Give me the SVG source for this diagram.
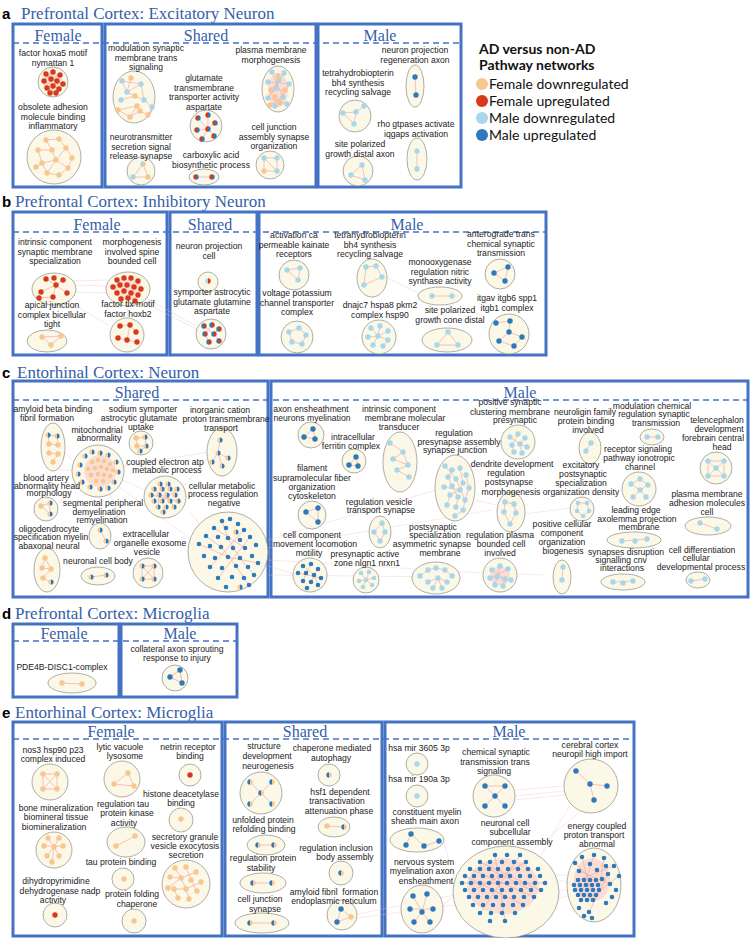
<svg xmlns="http://www.w3.org/2000/svg" width="752" height="938" viewBox="0 0 752 938">
<defs>
<style>
.ttl{font-family:"Liberation Serif","Times New Roman",serif;font-size:17px;fill:#3560a8}
.hd{font-family:"Liberation Serif","Times New Roman",serif;font-size:16px;fill:#3560a8;text-anchor:middle}
.pl{font-family:"Liberation Sans",Arial,sans-serif;font-size:15px;font-weight:bold;fill:#000}
.fr{fill:none;stroke:#4472c4;stroke-width:3}
.ds{stroke:#4472c4;stroke-width:1.6;stroke-dasharray:6 4}
.lb{font-family:"Liberation Sans",Arial,sans-serif;font-size:8.6px;fill:#222;text-anchor:middle}
.cl{fill:#fcf8e8;stroke:#8e8c80;stroke-width:0.7}
.e{fill:none;stroke:#f0aaa4;stroke-width:0.7}
.cx{fill:none;stroke:#f4bcbc;stroke-width:0.7;opacity:0.5}
.blob{fill:#f7c9c2;opacity:0.55}
.d{fill:none;stroke-linecap:round;stroke-width:5.4}
.s{stroke-width:4.6}
.fd{stroke:#f8c68f}.fu{stroke:#d7391b}.md{stroke:#a8d7ea}.mu{stroke:#2e78bc}
.lg{font-family:Lato,"Open Sans",sans-serif;font-size:14px;fill:#111}
</style>
<g id="sRB"><path d="M0-2.7A2.7 2.7 0 0 0 0 2.7Z" fill="#d7391b"/><path d="M0-2.7A2.7 2.7 0 0 1 0 2.7Z" fill="#2e78bc"/></g>
<g id="sLR"><path d="M0-2.7A2.7 2.7 0 0 0 0 2.7Z" fill="#a8d7ea"/><path d="M0-2.7A2.7 2.7 0 0 1 0 2.7Z" fill="#d7391b"/></g>
<g id="sBR"><path d="M0-2.7A2.7 2.7 0 0 0 0 2.7Z" fill="#2e78bc"/><path d="M0-2.7A2.7 2.7 0 0 1 0 2.7Z" fill="#d7391b"/></g>
<g id="sFB"><path d="M0-2.6A2.6 2.6 0 0 0 0 2.6Z" fill="#f8c68f"/><path d="M0-2.6A2.6 2.6 0 0 1 0 2.6Z" fill="#2e78bc"/></g>
<g id="sBF"><path d="M0-2.7A2.7 2.7 0 0 0 0 2.7Z" fill="#2e78bc"/><path d="M0-2.7A2.7 2.7 0 0 1 0 2.7Z" fill="#f8c68f"/></g>
<g id="sLF"><path d="M0-2.7A2.7 2.7 0 0 0 0 2.7Z" fill="#a8d7ea"/><path d="M0-2.7A2.7 2.7 0 0 1 0 2.7Z" fill="#f8c68f"/></g>
</defs>
<rect width="752" height="938" fill="#fff"/>

<g id="titles">
<text class="pl" x="2" y="19">a</text><text class="ttl" x="21" y="19">Prefrontal Cortex: Excitatory Neuron</text>
<text class="pl" x="2" y="207">b</text><text class="ttl" x="15" y="207">Prefrontal Cortex: Inhibitory Neuron</text>
<text class="pl" x="2" y="378">c</text><text class="ttl" x="17" y="378">Entorhinal Cortex: Neuron</text>
<text class="pl" x="2" y="619">d</text><text class="ttl" x="15" y="619">Prefrontal Cortex: Microglia</text>
<text class="pl" x="2" y="718">e</text><text class="ttl" x="15" y="718">Entorhinal Cortex: Microglia</text>
</g>

<g id="frames">
<rect class="fr" x="13" y="24" width="89" height="163"/><rect class="fr" x="105" y="24" width="211" height="163"/><rect class="fr" x="318" y="24" width="143" height="163"/>
<line class="ds" x1="13" y1="43" x2="461" y2="43"/>
<text class="hd" x="58" y="41">Female</text><text class="hd" x="206" y="41">Shared</text><text class="hd" x="380" y="41">Male</text>
<rect class="fr" x="13" y="212" width="154" height="143"/><rect class="fr" x="170" y="212" width="87" height="143"/><rect class="fr" x="259" y="212" width="287" height="143"/>
<line class="ds" x1="13" y1="232" x2="546" y2="232"/>
<text class="hd" x="97" y="230">Female</text><text class="hd" x="210" y="230">Shared</text><text class="hd" x="407" y="230">Male</text>
<rect class="fr" x="13" y="381" width="255" height="216"/><rect class="fr" x="271" y="381" width="477" height="216"/>
<line class="ds" x1="13" y1="400" x2="748" y2="400"/>
<text class="hd" x="137" y="398">Shared</text><text class="hd" x="520" y="398">Male</text>
<rect class="fr" x="13" y="624" width="106" height="73"/><rect class="fr" x="121" y="624" width="116" height="73"/>
<line class="ds" x1="13" y1="641" x2="237" y2="641"/>
<text class="hd" x="64" y="639">Female</text><text class="hd" x="180" y="639">Male</text>
<rect class="fr" x="13" y="722" width="209" height="214"/><rect class="fr" x="225" y="722" width="157" height="214"/><rect class="fr" x="385" y="722" width="249" height="214"/>
<line class="ds" x1="13" y1="739" x2="634" y2="739"/>
<text class="hd" x="111" y="737">Female</text><text class="hd" x="305" y="737">Shared</text><text class="hd" x="509" y="737">Male</text>
</g>

<g id="legend">
<text class="lg" x="479" y="54" font-weight="bold">AD versus non-AD</text>
<text class="lg" x="479" y="70" font-weight="bold">Pathway networks</text>
<circle cx="482" cy="84" r="6" fill="#f8c68f"/><text class="lg" x="489" y="89">Female downregulated</text>
<circle cx="482" cy="101" r="6" fill="#d7391b"/><text class="lg" x="489" y="106">Female upregulated</text>
<circle cx="482" cy="118" r="6" fill="#a8d7ea"/><text class="lg" x="489" y="123">Male downregulated</text>
<circle cx="482" cy="135" r="6" fill="#2e78bc"/><text class="lg" x="489" y="140">Male upregulated</text>
</g>

<g id="connectors" class="cx">
<path d="M76 285L106 286M74 292L108 293M72 281L108 280M140 300L198 330M128 304L127 318M142 296L196 326M66 300L110 326M386 277L418 293"/>
<path d="M64 452L74 462M58 470L72 470M58 505L76 484M100 497L100 523M122 480L145 490M118 486L192 540M124 466L208 452M182 488L208 458M190 512L200 525M110 494L140 565M268 560L483 573M268 548L492 510M268 575L448 577M268 566L294 574M268 540L436 490M517 574L545 575M517 515L570 508M475 500L496 505"/>
<path d="M515 790L564 786M515 796L564 791M514 800L565 795M540 857L570 805M530 852L580 812M559 880L567 882M559 890L567 890M558 898L568 896M556 875L568 875M500 846L496 817M455 895L443 905M456 885L444 843M357 918L454 905M357 914L455 895"/>
</g>

<g id="panel-a">
<g id="a-hoxa5"><circle class="cl" cx="53" cy="82" r="15"/><circle class="blob" cx="53" cy="83" r="10"/>
<path class="e" d="M46 74L57 81L50 93M53 72L44 81L59 89M60 75L51 79L63 84M47 88L56 93M53 86L60 75M44 81L50 93M57 81L63 84M46 74L53 86"/>
<path class="d fu" d="M46 74h0M53 72h0M60 75h0M44 81h0M51 79h0M57 81h0M63 84h0M47 88h0M53 86h0M59 89h0M50 93h0M56 93h0"/>
<text class="lb"><tspan x="53" y="56">factor hoxa5 motif</tspan><tspan x="53" y="66">nymattan 1</tspan></text></g>
<g id="a-obsolete"><circle class="cl" cx="54" cy="157" r="27"/>
<path class="e" d="M46 140L52 150L38 150L42 163L47 173L59 175L68 168L72 158L66 148L59 139L46 140M52 150L56 160L42 163M56 160L66 148M56 160L68 168M56 160L47 173M36 167L42 163"/>
<path class="d fd" d="M46 140h0M59 139h0M38 150h0M52 150h0M66 148h0M72 158h0M42 163h0M56 160h0M68 168h0M47 173h0M59 175h0M36 167h0"/>
<text class="lb"><tspan x="53" y="110">obsolete adhesion</tspan><tspan x="53" y="119.5">molecule binding</tspan><tspan x="53" y="129">inflammatory</tspan></text></g>
<g id="a-modulation"><ellipse class="cl" cx="134" cy="97" rx="21" ry="26"/>
<path class="e" d="M122 81L141 84L127 92L122 81M131 78L127 92L135 96L144 100L141 84M121 100L135 96M137 106L118 110L130 117L140 111L148 115L152 107L144 100M140 111L137 106L130 117"/>
<path class="d md" d="M122 81h0M141 84h0M127 92h0M121 100h0M144 100h0M152 107h0"/>
<path class="d fd" d="M131 78h0M135 96h0M137 106h0M118 110h0M140 111h0M130 117h0M148 115h0"/>
<text class="lb"><tspan x="146" y="51">modulation synaptic</tspan><tspan x="146" y="60.5">membrane trans</tspan><tspan x="146" y="70">signaling</tspan></text></g>
<g id="a-glutamate"><circle class="cl" cx="206" cy="126" r="16"/>
<path class="e" d="M198 118L208 129L215 123M208 115L208 129L202 139M197 130L208 129L214 136"/>
<use href="#sRB" x="198" y="118"/><use href="#sRB" x="208" y="115"/><use href="#sRB" x="215" y="123"/><use href="#sRB" x="197" y="130"/><use href="#sRB" x="208" y="129"/><use href="#sRB" x="214" y="136"/><use href="#sRB" x="202" y="139"/>
<text class="lb"><tspan x="204" y="81">glutamate</tspan><tspan x="204" y="90.5">transmembrane</tspan><tspan x="204" y="100">transporter activity</tspan><tspan x="204" y="109.5">aspartate</tspan></text></g>
<g id="a-plasma"><ellipse class="cl" cx="278" cy="89" rx="16" ry="23"/><ellipse class="blob" cx="278" cy="90" rx="10" ry="17"/>
<path class="e" d="M272 72L283 97L270 105M284 73L268 98L287 104M268 82L289 84L275 106M279 80L271 90L285 90L280 103M278 76L276 88L268 98"/>
<path class="d md" d="M272 72h0M284 73h0M268 82h0M289 84h0M276 88h0M283 97h0M268 98h0M287 104h0M275 106h0M279 80h0"/>
<path class="d fd" d="M278 76h0M271 90h0M285 90h0M275 97h0M280 103h0M270 105h0"/>
<text class="lb"><tspan x="271" y="53">plasma membrane</tspan><tspan x="271" y="62.5">morphogenesis</tspan></text></g>
<g id="a-neurotransmitter"><circle class="cl" cx="141" cy="171" r="14"/>
<path class="e" d="M143 164L133 177L148 177Z"/>
<use href="#sLF" x="143" y="164"/><path class="d md" d="M133 177h0"/><path class="d fd" d="M148 177h0"/>
<text class="lb"><tspan x="141" y="140">neurotransmitter</tspan><tspan x="141" y="149.5">secretion signal</tspan><tspan x="141" y="159">release synapse</tspan></text></g>
<g id="a-carboxylic"><ellipse class="cl" cx="204" cy="177" rx="15" ry="8"/>
<path class="e" d="M196 177H212"/><use href="#sRB" x="196" y="177"/><use href="#sRB" x="212" y="177"/>
<text class="lb"><tspan x="211" y="158">carboxylic acid</tspan><tspan x="211" y="167.5">biosynthetic process</tspan></text></g>
<g id="a-celljunction"><circle class="cl" cx="270" cy="165" r="14"/>
<path class="e" d="M264 158H277V171H264ZM264 158L277 171"/>
<path class="d md" d="M264 158h0M277 158h0M277 171h0"/><path class="d fd" d="M264 171h0"/>
<text class="lb"><tspan x="274" y="130">cell junction</tspan><tspan x="274" y="139.5">assembly synapse</tspan><tspan x="274" y="149">organization</tspan></text></g>
<g id="a-neuronprojection"><ellipse class="cl" cx="415" cy="86" rx="9" ry="21"/>
<path class="e" d="M415 77L416 95"/><path class="d mu" d="M415 77h0M416 95h0"/>
<text class="lb"><tspan x="415" y="53">neuron projection</tspan><tspan x="415" y="62.5">regeneration axon</tspan></text></g>
<g id="a-tetrahydro"><circle class="cl" cx="355" cy="116" r="16"/>
<path class="e" d="M343 113L356 112L364 106M356 112L354 124M343 113L354 124"/>
<path class="d md" d="M343 113h0M356 112h0M364 106h0M354 124h0"/>
<text class="lb"><tspan x="358" y="76">tetrahydrobiopterin</tspan><tspan x="358" y="85.5">bh4 synthesis</tspan><tspan x="358" y="95">recycling salvage</tspan></text></g>
<g id="a-rho"><ellipse class="cl" cx="417" cy="159" rx="10" ry="21"/>
<path class="e" d="M417 151V169"/><path class="d md" d="M417 151h0M417 169h0"/>
<text class="lb"><tspan x="416" y="127">rho gtpases activate</tspan><tspan x="416" y="136.5">iqgaps activation</tspan></text></g>
<g id="a-sitepolarized"><circle class="cl" cx="358" cy="171" r="15"/>
<path class="e" d="M362 165L351 175L365 180Z"/><path class="d md" d="M362 165h0M351 175h0M365 180h0"/>
<text class="lb"><tspan x="360" y="147">site polarized</tspan><tspan x="360" y="156.5">growth distal axon</tspan></text></g>
</g>

<g id="panel-b">
<g id="b-intrinsic"><ellipse class="cl" cx="54" cy="289" rx="22" ry="16"/>
<path class="e" d="M46 279L56 285L63 280M54 278L56 285L41 292M56 285L67 293M56 285L53 297M39 298L53 297"/>
<path class="d fu" d="M46 279h0M54 278h0M63 280h0M56 285h0M41 292h0M67 293h0M53 297h0M39 298h0"/>
<text class="lb"><tspan x="55" y="245">intrinsic component</tspan><tspan x="55" y="254.5">synaptic membrane</tspan><tspan x="55" y="264">specialization</tspan></text></g>
<g id="b-morphogenesis"><ellipse class="cl" cx="128" cy="289" rx="22" ry="17"/><ellipse class="blob" cx="128" cy="289" rx="14" ry="11"/>
<path class="d fu" d="M117 280h0M124 278h0M131 278h0M138 281h0M113 287h0M120 285h0M127 285h0M134 287h0M141 289h0M117 293h0M124 291h0M131 293h0M138 295h0M121 299h0M128 298h0M135 301h0"/>
<text class="lb"><tspan x="132" y="245">morphogenesis</tspan><tspan x="132" y="254.5">involved spine</tspan><tspan x="132" y="264">bounded cell</tspan></text></g>
<g id="b-apical"><ellipse class="cl" cx="47" cy="341" rx="20" ry="11"/>
<path class="e" d="M42 337L61 336L51 345Z"/><path class="d fd" d="M42 337h0M61 336h0M51 345h0"/>
<text class="lb"><tspan x="52" y="308">apical junction</tspan><tspan x="52" y="317.5">complex bicellular</tspan><tspan x="52" y="327">tight</tspan></text></g>
<g id="b-factortlx"><circle class="cl" cx="127" cy="335" r="17"/>
<path class="e" d="M120 326L130 325L136 332M118 338L127 340L137 342M130 325L127 340"/>
<path class="d fu" d="M120 326h0M130 325h0M136 332h0M118 338h0M127 340h0M137 342h0"/>
<text class="lb"><tspan x="128" y="307">factor tlx motif</tspan><tspan x="128" y="316.5">factor hoxb2</tspan></text></g>
<g id="b-neuronprojection"><circle class="cl" cx="208" cy="282" r="10"/><use href="#sLR" x="208" y="281"/>
<text class="lb"><tspan x="209" y="249">neuron projection</tspan><tspan x="209" y="258.5">cell</tspan></text></g>
<g id="b-symporter"><circle class="cl" cx="211" cy="334" r="15"/>
<path class="e" d="M204 326L214 334L219 329M212 325L205 334L209 342M214 334L219 341"/>
<use href="#sBR" x="204" y="326"/><use href="#sBR" x="212" y="325"/><use href="#sBR" x="219" y="329"/><use href="#sBR" x="205" y="334"/><use href="#sBR" x="214" y="334"/><use href="#sBR" x="209" y="342"/><use href="#sBR" x="219" y="341"/>
<text class="lb"><tspan x="212" y="295">symporter astrocytic</tspan><tspan x="212" y="304.5">glutamate glutamine</tspan><tspan x="212" y="314">aspartate</tspan></text></g>
<g id="b-activation"><circle class="cl" cx="294" cy="275" r="15"/>
<path class="e" d="M287 270L300 268L298 280Z"/><path class="d md" d="M287 270h0M300 268h0M298 280h0"/>
<text class="lb"><tspan x="294" y="238">activation ca</tspan><tspan x="294" y="247.5">permeable kainate</tspan><tspan x="294" y="257">receptors</tspan></text></g>
<g id="b-tetrahydro"><ellipse class="cl" cx="372" cy="278" rx="15" ry="19"/>
<path class="e" d="M366 267L376 266L382 277L364 285Z"/><path class="d md" d="M366 267h0M376 266h0M382 277h0M364 285h0"/>
<text class="lb"><tspan x="370" y="238">tetrahydrobiopterin</tspan><tspan x="370" y="247.5">bh4 synthesis</tspan><tspan x="370" y="257">recycling salvage</tspan></text></g>
<g id="b-monooxygenase"><ellipse class="cl" cx="440" cy="296" rx="22" ry="9"/>
<path class="e" d="M432 296H452"/><path class="d md" d="M432 296h0M452 296h0"/>
<text class="lb"><tspan x="440" y="265">monooxygenase</tspan><tspan x="440" y="274.5">regulation nitric</tspan><tspan x="440" y="284">synthase activity</tspan></text></g>
<g id="b-anterograde"><circle class="cl" cx="500" cy="274" r="15"/>
<path class="e" d="M494 273L508 267L505 281Z"/><path class="d mu" d="M494 273h0M508 267h0M505 281h0"/>
<text class="lb"><tspan x="501" y="237">anterograde trans</tspan><tspan x="501" y="246.5">chemical synaptic</tspan><tspan x="501" y="256">transmission</tspan></text></g>
<g id="b-voltage"><circle class="cl" cx="297" cy="337" r="16"/>
<path class="e" d="M289 332L299 328L306 335L302 344L292 342Z"/><path class="d md" d="M289 332h0M299 328h0M306 335h0M292 342h0M302 344h0"/>
<text class="lb"><tspan x="297" y="296">voltage potassium</tspan><tspan x="297" y="305.5">channel transporter</tspan><tspan x="297" y="315">complex</tspan></text></g>
<g id="b-dnajc7"><circle class="cl" cx="379" cy="337" r="17"/>
<path class="e" d="M371 328L378 336L388 331M380 326L378 336L373 345M368 337L378 336L388 340L383 346"/>
<path class="d md" d="M371 328h0M380 326h0M388 331h0M368 337h0M378 336h0M388 340h0M373 345h0M383 346h0"/>
<text class="lb"><tspan x="380" y="308">dnajc7 hspa8 pkm2</tspan><tspan x="380" y="317.5">complex hsp90</tspan></text></g>
<g id="b-sitepolarized"><ellipse class="cl" cx="447" cy="340" rx="25" ry="12"/>
<path class="e" d="M448 332L437 345L458 345Z"/><path class="d md" d="M448 332h0M437 345h0M458 345h0"/>
<text class="lb"><tspan x="450" y="313">site polarized</tspan><tspan x="450" y="322.5">growth cone distal</tspan></text></g>
<g id="b-itgav"><circle class="cl" cx="509" cy="334" r="20"/>
<path class="e" d="M496 323L510 321L509 332L522 337M509 332L499 341L514 346L522 337"/>
<path class="d mu" d="M496 323h0M510 321h0M509 332h0M522 337h0M499 341h0M514 346h0"/>
<text class="lb"><tspan x="507" y="301">itgav itgb6 spp1</tspan><tspan x="507" y="310.5">itgb1 complex</tspan></text></g>
</g>

<g id="panel-c">
<g id="c-amyloid"><ellipse class="cl" cx="53" cy="447" rx="12" ry="24"/>
<path class="e" d="M48 435L57 436L58 445L49 444L48 435M49 453L58 454L53 462"/>
<use href="#sFB" x="48" y="435"/><use href="#sFB" x="57" y="436"/>
<path class="d fd" d="M49 444h0M58 445h0M49 453h0M58 454h0M53 462h0"/>
<text class="lb"><tspan x="53" y="412">amyloid beta binding</tspan><tspan x="47" y="421">fibril formation</tspan></text></g>
<g id="c-sodium"><circle class="cl" cx="141" cy="443" r="12"/>
<path class="e" d="M136 438L145 437L146 446L137 446L136 438M140 451L146 446"/>
<path class="d fd" d="M136 438h0M137 446h0"/><use href="#sFB" x="145" y="437"/><use href="#sFB" x="146" y="446"/><use href="#sFB" x="140" y="451"/>
<text class="lb"><tspan x="143" y="412">sodium symporter</tspan><tspan x="139" y="421">astrocytic glutamate</tspan><tspan x="141" y="430">uptake</tspan></text></g>
<g id="c-inorganic"><ellipse class="cl" cx="222" cy="452" rx="15" ry="24"/>
<path class="e" d="M220 440L218 453L228 458M218 453L212 462M218 453L222 466"/>
<use href="#sFB" x="220" y="440"/><use href="#sFB" x="218" y="453"/><use href="#sFB" x="228" y="458"/><use href="#sFB" x="212" y="462"/><use href="#sFB" x="222" y="466"/>
<text class="lb"><tspan x="220" y="413">inorganic cation</tspan><tspan x="226" y="422">proton transmembrane</tspan><tspan x="221" y="431">transport</tspan></text></g>
<g id="c-mitochondrial"><circle class="cl" cx="98" cy="471" r="26"/><circle class="blob" cx="100" cy="471" r="16"/>
<path class="d s fd" d="M92 462h0M98 460h0M104 461h0M110 464h0M88 469h0M95 468h0M101 467h0M107 469h0M113 470h0M91 475h0M98 474h0M104 475h0M110 476h0M96 481h0M103 481h0"/>
<use href="#sFB" x="85" y="456"/><use href="#sFB" x="92" y="452"/><use href="#sFB" x="100" y="453"/><use href="#sFB" x="108" y="455"/><use href="#sFB" x="80" y="465"/><use href="#sFB" x="116" y="462"/><use href="#sFB" x="78" y="474"/><use href="#sFB" x="118" y="472"/><use href="#sFB" x="82" y="482"/><use href="#sFB" x="114" y="482"/><use href="#sFB" x="90" y="487"/><use href="#sFB" x="100" y="489"/><use href="#sFB" x="108" y="488"/>
<text class="lb"><tspan x="97" y="433">mitochondrial</tspan><tspan x="99" y="441">abnormality</tspan></text></g>
<g id="c-coupled"><circle class="cl" cx="165" cy="497" r="21"/>
<path class="e" d="M160 484L167 495L174 507M168 484L159 495L158 507M151 495L178 501M154 489L170 501M177 489L162 501"/>
<use href="#sFB" x="160" y="484"/><use href="#sFB" x="168" y="484"/><use href="#sFB" x="154" y="489"/><use href="#sFB" x="162" y="489"/><use href="#sFB" x="170" y="489"/><use href="#sFB" x="177" y="489"/><use href="#sFB" x="151" y="495"/><use href="#sFB" x="159" y="495"/><use href="#sFB" x="167" y="495"/><use href="#sFB" x="175" y="495"/><use href="#sFB" x="154" y="501"/><use href="#sFB" x="162" y="501"/><use href="#sFB" x="170" y="501"/><use href="#sFB" x="178" y="501"/><use href="#sFB" x="158" y="507"/><use href="#sFB" x="166" y="507"/><use href="#sFB" x="174" y="507"/><use href="#sFB" x="163" y="512"/>
<text class="lb"><tspan x="165" y="465">coupled electron atp</tspan><tspan x="167" y="473">metabolic process</tspan></text></g>
<g id="c-bloodartery"><circle class="cl" cx="46" cy="509" r="12"/>
<path class="e" d="M41 506L50 503L50 514Z"/><path class="d fd" d="M41 506h0"/><use href="#sFB" x="50" y="503"/><use href="#sFB" x="50" y="514"/>
<text class="lb"><tspan x="46" y="481">blood artery</tspan><tspan x="47" y="489">abnormality head</tspan><tspan x="49" y="496">morphology</tspan></text></g>
<g id="c-cellularmetabolic"><circle class="cl" cx="228" cy="552" r="40"/>
<path class="e" d="M222 521L228 538L240 558L254 575M206 536L221 547L236 566L249 585M214 528L245 548M199 544L228 557L258 563M210 567L244 530M218 578L250 537"/>
<path class="d s mu" d="M222 521h0M230 519h0M238 524h0M214 528h0M226 528h0M244 530h0M206 536h0M218 537h0M228 538h0M240 540h0M250 537h0M199 544h0M210 546h0M221 547h0M233 548h0M245 548h0M256 545h0M204 556h0M215 558h0M228 557h0M240 558h0M252 556h0M210 567h0M222 568h0M236 566h0M248 567h0M258 563h0M218 578h0M232 577h0M244 578h0M254 575h0M226 587h0M249 585h0"/>
<use href="#sFB" x="236" y="532"/><use href="#sFB" x="240" y="587"/>
<text class="lb"><tspan x="222" y="489">cellular metabolic</tspan><tspan x="223" y="497">process regulation</tspan><tspan x="224" y="506">negative</tspan></text></g>
<g id="c-segmental"><ellipse class="cl" cx="100" cy="536" rx="11" ry="13"/>
<path class="e" d="M100 530L106 541"/><use href="#sFB" x="100" y="530"/><use href="#sFB" x="106" y="541"/>
<text class="lb"><tspan x="103" y="506">segmental peripheral</tspan><tspan x="99" y="515">demyelination</tspan><tspan x="102" y="523">remyelination</tspan></text></g>
<g id="c-oligodendrocyte"><ellipse class="cl" cx="47" cy="570" rx="13" ry="22"/>
<path class="e" d="M45 558L42 568L51 569L43 578L51 582M45 558L51 569"/>
<path class="d fd" d="M45 558h0M42 568h0M51 569h0M43 578h0"/><use href="#sFB" x="51" y="582"/>
<text class="lb"><tspan x="49" y="532">oligodendrocyte</tspan><tspan x="51" y="540">specification myelin</tspan><tspan x="49" y="549">abaxonal neural</tspan></text></g>
<g id="c-extracellular"><circle class="cl" cx="148" cy="573" r="15"/>
<path class="e" d="M142 566H154V579H142ZM142 566L154 579M154 566L142 579"/>
<use href="#sFB" x="142" y="566"/><use href="#sFB" x="154" y="566"/><use href="#sFB" x="142" y="579"/><use href="#sFB" x="154" y="579"/>
<text class="lb"><tspan x="146" y="537">extracellular</tspan><tspan x="150" y="546">organelle exosome</tspan><tspan x="147" y="555">vesicle</tspan></text></g>
<g id="c-neuronalcellbody"><ellipse class="cl" cx="98" cy="576" rx="17" ry="9"/>
<path class="e" d="M91 577L106 575"/><use href="#sFB" x="91" y="577"/><use href="#sFB" x="106" y="575"/>
<text class="lb"><tspan x="98" y="564">neuronal cell body</tspan></text></g>

<g id="c-axonensheathment"><circle class="cl" cx="311" cy="435" r="13"/>
<path class="e" d="M313 429L304 437L315 439Z"/><path class="d mu" d="M313 429h0M304 437h0M315 439h0"/>
<text class="lb"><tspan x="311" y="412">axon ensheathment</tspan><tspan x="312" y="421">neurons myelination</tspan></text></g>
<g id="c-intracellular"><circle class="cl" cx="354" cy="461" r="12"/>
<path class="e" d="M356 457L349 465L358 466Z"/><path class="d mu" d="M356 457h0M349 465h0M358 466h0"/>
<text class="lb"><tspan x="353" y="440">intracellular</tspan><tspan x="351" y="449">ferritin complex</tspan></text></g>
<g id="c-intrinsic"><ellipse class="cl" cx="400" cy="462" rx="17" ry="30"/>
<path class="e" d="M390 443L403 452L393 459L408 465L397 470L409 477M403 452L408 465"/>
<path class="d md" d="M390 443h0M403 452h0M393 459h0M408 465h0M397 470h0M409 477h0"/>
<text class="lb"><tspan x="399" y="412">intrinsic component</tspan><tspan x="405" y="421">membrane molecular</tspan><tspan x="399" y="430">transducer</tspan></text></g>
<g id="c-presynapse"><ellipse class="cl" cx="455" cy="488" rx="20" ry="33"/>
<path class="e" d="M445 466L456 479L465 500M452 470L448 477L452 486L458 497L456 507M460 468L463 483L460 490L450 495L447 505M466 475L469 488L465 500L463 510L455 516M444 487L460 490"/>
<path class="d md" d="M445 466h0M452 470h0M460 468h0M466 475h0M448 477h0M456 479h0M463 483h0M444 487h0M452 486h0M460 490h0M469 488h0M450 495h0M458 497h0M465 500h0M447 505h0M456 507h0M463 510h0M455 516h0"/>
<text class="lb"><tspan x="454" y="436">regulation</tspan><tspan x="459" y="445">presynapse assembly</tspan><tspan x="455" y="453">synapse junction</tspan></text></g>
<g id="c-filament"><circle class="cl" cx="312" cy="515" r="14"/>
<path class="e" d="M306 512L318 508L318 522Z"/><path class="d mu" d="M306 512h0M318 508h0M318 522h0"/>
<text class="lb"><tspan x="312" y="471">filament</tspan><tspan x="312" y="481">supramolecular fiber</tspan><tspan x="312" y="490">organization</tspan><tspan x="312" y="499">cytoskeleton</tspan></text></g>
<g id="c-vesicle"><ellipse class="cl" cx="380" cy="532" rx="11" ry="16"/>
<path class="e" d="M382 523L374 532L380 541L385 532Z"/><path class="d md" d="M382 523h0M374 532h0M385 532h0M380 541h0"/>
<text class="lb"><tspan x="379" y="505">regulation vesicle</tspan><tspan x="381" y="513">transport synapse</tspan></text></g>
<g id="c-cellcomponent"><circle class="cl" cx="310" cy="575" r="17"/>
<path class="e" d="M303 566L314 575L318 585M311 564L306 573L303 581M318 569L314 575L311 582M298 573L321 578"/>
<path class="d s mu" d="M303 566h0M311 564h0M318 569h0M298 573h0M306 573h0M314 575h0M321 578h0M303 581h0M311 582h0M318 585h0M307 588h0"/>
<text class="lb"><tspan x="312" y="538">cell component</tspan><tspan x="315" y="547">movement locomotion</tspan><tspan x="309" y="556">motility</tspan></text></g>
<g id="c-presynapticactive"><circle class="cl" cx="366" cy="580" r="13"/>
<path class="e" d="M361 573L366 580L372 585M369 572L366 580L363 587M359 581L374 578"/>
<path class="d s md" d="M361 573h0M369 572h0M374 578h0M359 581h0M366 580h0M372 585h0M363 587h0"/>
<text class="lb"><tspan x="365" y="557">presynaptic active</tspan><tspan x="367" y="566">zone nlgn1 nrxn1</tspan></text></g>
<g id="c-postsynaptic"><ellipse class="cl" cx="436" cy="578" rx="24" ry="16"/>
<path class="e" d="M420 576L428 570L436 568L445 570L452 576M428 582L438 578L447 582M433 588L438 578L442 588"/>
<path class="d md" d="M420 576h0M428 570h0M436 568h0M445 570h0M428 582h0M438 578h0M447 582h0M433 588h0M452 576h0M442 588h0"/>
<text class="lb"><tspan x="433" y="530">postsynaptic</tspan><tspan x="435" y="538">specialization</tspan><tspan x="432" y="547">asymmetric synapse</tspan><tspan x="440" y="556">membrane</tspan></text></g>
<g id="c-positivesynaptic"><circle class="cl" cx="518" cy="442" r="17"/>
<path class="e" d="M510 437L520 444L527 447M518 434L512 445L514 452M525 438L520 444L522 453"/>
<path class="d md" d="M510 437h0M518 434h0M525 438h0M512 445h0M520 444h0M527 447h0M514 452h0M522 453h0"/>
<text class="lb"><tspan x="510" y="405">positive synaptic</tspan><tspan x="510" y="415">clustering membrane</tspan><tspan x="515" y="423">presynaptic</tspan></text></g>
<g id="c-dendrite"><ellipse class="cl" cx="511" cy="512" rx="14" ry="20"/>
<path class="e" d="M505 502L514 504L516 513L510 524L504 512Z"/><path class="d md" d="M505 502h0M514 504h0M504 512h0M516 513h0M510 524h0"/>
<text class="lb"><tspan x="512" y="467">dendrite development</tspan><tspan x="506" y="476">regulation</tspan><tspan x="509" y="485">postsynapse</tspan><tspan x="511" y="495">morphogenesis</tspan></text></g>
<g id="c-regplasma"><circle class="cl" cx="500" cy="575" r="17"/><circle class="blob" cx="500" cy="576" r="10"/>
<path class="e" d="M492 570L505 579L503 586M500 566L497 577L495 585M508 569L490 578M511 580L497 577"/>
<path class="d md" d="M492 570h0M500 566h0M508 569h0M490 578h0M497 577h0M505 579h0M511 580h0M495 585h0M503 586h0"/>
<text class="lb"><tspan x="500" y="538">regulation plasma</tspan><tspan x="501" y="547">bounded cell</tspan><tspan x="500" y="556">involved</tspan></text></g>
<g id="c-neuroligin"><ellipse class="cl" cx="590" cy="448" rx="11" ry="16"/>
<path class="e" d="M591 443L586 451"/><path class="d md" d="M591 443h0M586 451h0"/>
<text class="lb"><tspan x="585" y="415">neuroligin family</tspan><tspan x="586" y="424">protein binding</tspan><tspan x="588" y="433">involved</tspan></text></g>
<g id="c-modulation"><ellipse class="cl" cx="652" cy="437" rx="12" ry="8"/>
<path class="e" d="M647 437H658"/><path class="d md" d="M647 437h0M658 437h0"/>
<text class="lb"><tspan x="652" y="409">modulation chemical</tspan><tspan x="654" y="417">regulation synaptic</tspan><tspan x="656" y="426">transmission</tspan></text></g>
<g id="c-telencephalon"><circle class="cl" cx="716" cy="468" r="16"/>
<path class="e" d="M708 461H724V476H708ZM708 461L724 476M724 461L708 476"/>
<path class="d md" d="M708 461h0M724 461h0M716 468h0M708 476h0M724 476h0"/>
<text class="lb"><tspan x="717" y="423">telencephalon</tspan><tspan x="719" y="432">development</tspan><tspan x="713" y="441">forebrain central</tspan><tspan x="722" y="450">head</tspan></text></g>
<g id="c-receptor"><circle class="cl" cx="639" cy="489" r="17"/>
<path class="e" d="M631 484L640 479L648 485L640 490L631 484M633 497L640 490L646 497"/>
<path class="d md" d="M631 484h0M640 479h0M648 485h0M640 490h0M633 497h0M646 497h0"/>
<text class="lb"><tspan x="638" y="452">receptor signaling</tspan><tspan x="639" y="461">pathway ionotropic</tspan><tspan x="640" y="470">channel</tspan></text></g>
<g id="c-excitatory"><circle class="cl" cx="582" cy="509" r="12"/>
<path class="e" d="M578 503L587 503L589 511L583 516L577 511Z"/><path class="d s md" d="M578 503h0M587 503h0M577 511h0M589 511h0M583 516h0"/>
<text class="lb"><tspan x="581" y="468">excitatory</tspan><tspan x="583" y="477">postsynaptic</tspan><tspan x="581" y="486">specialization</tspan><tspan x="581" y="495">organization density</tspan></text></g>
<g id="c-plasmaadhesion"><ellipse class="cl" cx="708" cy="526" rx="23" ry="9"/>
<path class="e" d="M700 523L717 529"/><path class="d md" d="M700 523h0M717 529h0"/>
<text class="lb"><tspan x="707" y="497">plasma membrane</tspan><tspan x="707" y="506">adhesion molecules</tspan><tspan x="707" y="515">cell</tspan></text></g>
<g id="c-leadingedge"><ellipse class="cl" cx="634" cy="540" rx="27" ry="8"/>
<path class="e" d="M622 541L647 539"/><path class="d md" d="M622 541h0M635 541h0M647 539h0"/>
<text class="lb"><tspan x="636" y="513">leading edge</tspan><tspan x="637" y="522">axolemma projection</tspan><tspan x="639" y="530">membrane</tspan></text></g>
<g id="c-positivecellular"><ellipse class="cl" cx="562" cy="577" rx="9" ry="17"/>
<path class="e" d="M563 567L562 580"/><path class="d md" d="M563 567h0M562 580h0"/>
<text class="lb"><tspan x="562" y="527">positive cellular</tspan><tspan x="562" y="536">component</tspan><tspan x="562" y="545">organization</tspan><tspan x="563" y="554">biogenesis</tspan></text></g>
<g id="c-synapses"><ellipse class="cl" cx="623" cy="582" rx="22" ry="8"/>
<path class="e" d="M613 582L633 581"/><path class="d md" d="M613 582h0M623 583h0M633 581h0"/>
<text class="lb"><tspan x="626" y="555">synapses disruption</tspan><tspan x="621" y="563">signalling cnv</tspan><tspan x="622" y="571">interactions</tspan></text></g>
<g id="c-celldiff"><ellipse class="cl" cx="698" cy="580" rx="12" ry="8"/>
<path class="e" d="M691 581L705 579"/><path class="d md" d="M691 581h0M705 579h0"/>
<text class="lb"><tspan x="702" y="553">cell differentiation</tspan><tspan x="696" y="561">cellular</tspan><tspan x="701" y="570">developmental process</tspan></text></g>
</g>

<g id="panel-d">
<g id="d-pde4b"><ellipse class="cl" cx="72" cy="683" rx="24" ry="10"/>
<path class="e" d="M62 683L82 684"/><path class="d fd" d="M62 683h0M82 684h0"/>
<text class="lb"><tspan x="62" y="670">PDE4B-DISC1-complex</tspan></text></g>
<g id="d-collateral"><circle class="cl" cx="175" cy="678" r="13"/>
<path class="e" d="M170 677L180 670L182 683Z" style="stroke:#e8918a"/><path class="d mu" d="M170 677h0M180 670h0M182 683h0"/>
<text class="lb"><tspan x="177" y="652">collateral axon sprouting</tspan><tspan x="177" y="661">response to injury</tspan></text></g>
</g>

<g id="panel-e">
<g id="e-nos3"><circle class="cl" cx="50" cy="782" r="18"/>
<path class="e" d="M43 774H57V789H43ZM43 774L57 789M57 774L43 789"/><path class="d fd" d="M43 774h0M57 774h0M43 789h0M57 789h0"/>
<text class="lb"><tspan x="53" y="753">nos3 hsp90 p23</tspan><tspan x="53" y="762">complex induced</tspan></text></g>
<g id="e-lytic"><circle class="cl" cx="122" cy="779" r="18"/>
<path class="e" d="M114 784L128 773L134 786Z"/><path class="d fd" d="M114 784h0M128 773h0M134 786h0"/>
<text class="lb"><tspan x="120" y="750">lytic vacuole</tspan><tspan x="125" y="759">lysosome</tspan></text></g>
<g id="e-netrin"><circle class="cl" cx="190" cy="775" r="11"/><path class="d fu" d="M190 775h0"/>
<text class="lb"><tspan x="188" y="750">netrin receptor</tspan><tspan x="190" y="759">binding</tspan></text></g>
<g id="e-bone"><circle class="cl" cx="54" cy="850" r="18"/>
<path class="e" d="M48 838L54 847L59 856M59 838L54 847L47 856M44 846L63 846M52 862L54 847"/>
<path class="d fd" d="M48 838h0M59 838h0M44 846h0M54 847h0M63 846h0M47 856h0M59 856h0M52 862h0"/>
<text class="lb"><tspan x="56" y="811">bone mineralization</tspan><tspan x="56" y="820">biomineral tissue</tspan><tspan x="54" y="830">biomineralization</tspan></text></g>
<g id="e-regtau"><ellipse class="cl" cx="126" cy="842" rx="19" ry="15"/>
<path class="e" d="M116 846L135 836"/><path class="d fd" d="M116 846h0M135 836h0"/>
<text class="lb"><tspan x="123" y="807">regulation tau</tspan><tspan x="127" y="816">protein kinase</tspan><tspan x="124" y="826">activity</tspan></text></g>
<g id="e-histone"><circle class="cl" cx="181" cy="820" r="12"/><path class="d fd" d="M181 819h0"/>
<text class="lb"><tspan x="181" y="797">histone deacetylase</tspan><tspan x="181" y="806">binding</tspan></text></g>
<g id="e-secretory"><circle class="cl" cx="186" cy="884" r="24"/>
<path class="e" d="M175 868L181 878L186 889L189 899M186 867L191 880L197 891M196 872L181 878L170 877M201 882L186 889L174 889L178 898M168 888L181 878"/>
<path class="d fd" d="M175 868h0M186 867h0M196 872h0M170 877h0M181 878h0M191 880h0M201 882h0M174 889h0M186 889h0M197 891h0M178 898h0M189 899h0M168 888h0"/>
<text class="lb"><tspan x="185" y="840">secretory granule</tspan><tspan x="185" y="849">vesicle exocytosis</tspan><tspan x="186" y="858">secretion</tspan></text></g>
<g id="e-taubinding"><circle class="cl" cx="123" cy="879" r="11"/><path class="d fd" d="M124 879h0"/>
<text class="lb"><tspan x="121" y="865">tau protein binding</tspan></text></g>
<g id="e-dihydro"><circle class="cl" cx="55" cy="915" r="12"/><path class="d fu" d="M55 915h0"/>
<text class="lb"><tspan x="56" y="884">dihydropyrimidine</tspan><tspan x="60" y="894">dehydrogenase nadp</tspan><tspan x="53" y="903">activity</tspan></text></g>
<g id="e-proteinfolding"><circle class="cl" cx="134" cy="921" r="12"/><path class="d fd" d="M134 921h0"/>
<text class="lb"><tspan x="132" y="897">protein folding</tspan><tspan x="137" y="907">chaperone</tspan></text></g>

<g id="e-structure"><circle class="cl" cx="261" cy="793" r="21"/>
<path class="e" d="M250 782L272 804M272 782L250 804"/>
<use href="#sBF" x="250" y="782"/><use href="#sBF" x="272" y="782"/><use href="#sBF" x="261" y="793"/><use href="#sBF" x="250" y="804"/><use href="#sBF" x="272" y="804"/>
<text class="lb"><tspan x="264" y="749">structure</tspan><tspan x="267" y="759">development</tspan><tspan x="268" y="769">neurogenesis</tspan></text></g>
<g id="e-chaperone"><circle class="cl" cx="329" cy="775" r="11"/><use href="#sBF" x="329" y="775"/>
<text class="lb"><tspan x="332" y="751">chaperone mediated</tspan><tspan x="331" y="761">autophagy</tspan></text></g>
<g id="e-hsf1"><ellipse class="cl" cx="334" cy="827" rx="16" ry="10"/>
<path class="e" d="M327 826L344 827"/><path class="d fd" d="M327 826h0"/><use href="#sBF" x="344" y="827"/>
<text class="lb"><tspan x="340" y="795">hsf1 dependent</tspan><tspan x="337" y="804">transactivation</tspan><tspan x="339" y="814">attenuation phase</tspan></text></g>
<g id="e-unfolded"><ellipse class="cl" cx="266" cy="845" rx="19" ry="10"/>
<path class="e" d="M258 845H274"/><use href="#sBF" x="258" y="845"/><use href="#sBF" x="274" y="845"/>
<text class="lb"><tspan x="263" y="823">unfolded protein</tspan><tspan x="264" y="832">refolding binding</tspan></text></g>
<g id="e-reginclusion"><circle class="cl" cx="341" cy="873" r="12"/><use href="#sBF" x="341" y="873"/>
<text class="lb"><tspan x="336" y="851">regulation inclusion</tspan><tspan x="345" y="860">body assembly</tspan></text></g>
<g id="e-regprotein"><ellipse class="cl" cx="263" cy="883" rx="23" ry="10"/>
<path class="e" d="M253 883H272"/><use href="#sBF" x="253" y="883"/><use href="#sBF" x="272" y="883"/>
<text class="lb"><tspan x="263" y="861">regulation protein</tspan><tspan x="261" y="871">stability</tspan></text></g>
<g id="e-amyloidfibril"><circle class="cl" cx="342" cy="915" r="15"/>
<path class="e" d="M341 909L337 922L351 917Z"/><path class="d mu" d="M341 909h0M337 922h0"/><path class="d fd" d="M351 917h0"/>
<text class="lb"><tspan x="334" y="895" xml:space="preserve">amyloid fibril  formation</tspan><tspan x="334" y="904">endoplasmic reticulum</tspan></text></g>
<g id="e-celljunction"><ellipse class="cl" cx="262" cy="923" rx="27" ry="10"/>
<path class="e" d="M250 923H274"/><use href="#sBF" x="250" y="923"/><use href="#sBF" x="274" y="923"/>
<text class="lb"><tspan x="260" y="902">cell junction</tspan><tspan x="265" y="912">synapse</tspan></text></g>

<g id="e-hsa3605"><circle class="cl" cx="417" cy="764" r="11"/><path class="d md" d="M417 764h0"/>
<text class="lb"><tspan x="419" y="751">hsa mir 3605 3p</tspan></text></g>
<g id="e-hsa190a"><circle class="cl" cx="417" cy="796" r="11"/><path class="d md" d="M417 796h0"/>
<text class="lb"><tspan x="419" y="782">hsa mir 190a 3p</tspan></text></g>
<g id="e-constituent"><ellipse class="cl" cx="417" cy="840" rx="27" ry="12"/>
<path class="e" d="M411 834L406 845M411 834L424 846L439 841"/><path class="d mu" d="M411 834h0M406 845h0M424 846h0M439 841h0"/>
<text class="lb"><tspan x="427" y="815">constituent myelin</tspan><tspan x="425" y="824">sheath main axon</tspan></text></g>
<g id="e-nervous"><ellipse class="cl" cx="422" cy="909" rx="21" ry="24"/>
<path class="e" d="M413 896L422 912L430 922M427 894L422 912L414 922M410 909L433 909"/>
<path class="d mu" d="M413 896h0M427 894h0M410 909h0M422 912h0M433 909h0M414 922h0M430 922h0"/>
<text class="lb"><tspan x="424" y="865">nervous system</tspan><tspan x="422" y="874">myelination axon</tspan><tspan x="426" y="884">ensheathment</tspan></text></g>
<g id="e-chemical"><circle class="cl" cx="494" cy="796" r="21"/>
<path class="e" d="M485 786L505 806M505 786L485 806M485 786L505 786"/>
<path class="d mu" d="M485 786h0M505 786h0M495 796h0M485 806h0M505 806h0"/>
<text class="lb"><tspan x="496" y="755">chemical synaptic</tspan><tspan x="495" y="765">transmission trans</tspan><tspan x="494" y="774">signaling</tspan></text></g>
<g id="e-cerebral"><circle class="cl" cx="591" cy="786" r="27"/>
<path class="e" d="M576 771L590 784L607 786M590 784L594 800"/><path class="d mu" d="M576 771h0M590 784h0M607 786h0M594 800h0"/>
<text class="lb"><tspan x="590" y="748">cerebral cortex</tspan><tspan x="590" y="757">neuropil high import</tspan></text></g>
<g id="e-neuronalcell"><ellipse class="cl" cx="506" cy="892" rx="53" ry="46"/><ellipse class="blob" cx="503" cy="886" rx="36" ry="28"/>
<path class="e" d="M480 862L540 890M470 869L534 897M465 876L523 905M495 855L505 921M520 855L480 913M462 883L545 883M489 869L531 890M526 862L474 890"/>
<path class="d s mu" d="M495 855h0M507 855h0M520 855h0M480 862h0M490 862h0M502 862h0M514 862h0M526 862h0M470 869h0M480 869h0M489 869h0M498 869h0M508 869h0M518 869h0M528 869h0M538 869h0M465 876h0M474 876h0M483 876h0M492 876h0M501 876h0M510 876h0M520 876h0M530 876h0M540 876h0M462 883h0M471 883h0M480 883h0M489 883h0M498 883h0M507 883h0M516 883h0M525 883h0M535 883h0M545 883h0M465 890h0M474 890h0M483 890h0M492 890h0M502 890h0M511 890h0M521 890h0M531 890h0M541 890h0M469 897h0M478 897h0M487 897h0M496 897h0M505 897h0M514 897h0M524 897h0M534 897h0M473 905h0M483 905h0M493 905h0M503 905h0M513 905h0M523 905h0M480 913h0M491 913h0M502 913h0M515 913h0M490 921h0M505 921h0"/>
<text class="lb"><tspan x="505" y="826">neuronal cell</tspan><tspan x="510" y="835">subcellular</tspan><tspan x="512" y="845">component assembly</tspan></text></g>
<g id="e-energy"><ellipse class="cl" cx="594" cy="885" rx="27" ry="37"/><ellipse class="blob" cx="592" cy="880" rx="18" ry="22"/>
<path class="e" d="M582 857L590 890M594 855L581 895M604 858L599 890M575 863L598 885M614 866L578 880M579 871L610 884M619 876L587 900M608 874L589 912"/>
<path class="d s mu" d="M582 857h0M594 855h0M604 858h0M575 863h0M590 864h0M606 866h0M614 866h0M579 871h0M597 870h0M608 874h0M619 876h0M578 880h0M584 880h0M590 880h0M596 880h0M574 885h0M580 885h0M586 885h0M592 885h0M598 885h0M575 890h0M581 890h0M587 890h0M593 890h0M599 890h0M578 895h0M584 895h0M590 895h0M596 895h0M581 900h0M587 900h0M593 900h0M602 879h0M610 884h0M616 890h0M612 897h0M606 903h0M579 908h0M589 912h0M584 916h0M592 918h0"/>
<text class="lb"><tspan x="597" y="829">energy coupled</tspan><tspan x="594" y="838">proton transport</tspan><tspan x="597" y="847">abnormal</tspan></text></g>
</g>
</svg>
